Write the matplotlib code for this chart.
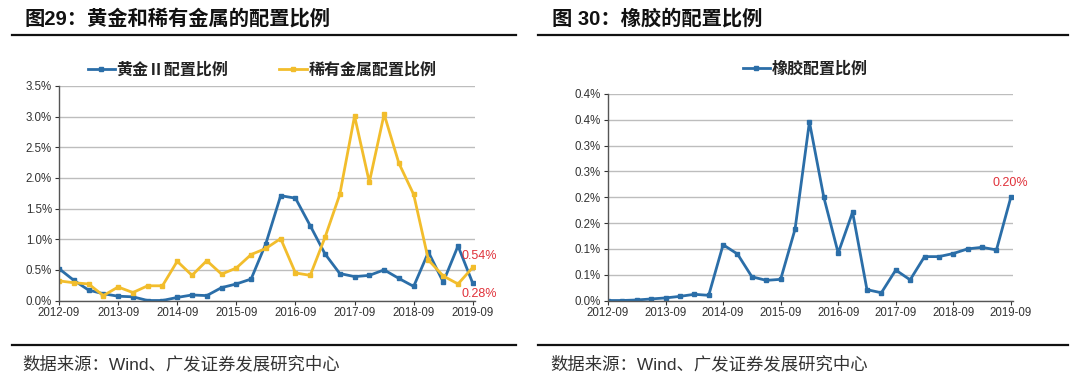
import math
import numpy as np
import matplotlib
matplotlib.use("Agg")
import matplotlib.pyplot as plt
from matplotlib.lines import Line2D
from matplotlib.ticker import FuncFormatter

plt.rcParams['font.family'] = ['Liberation Sans', 'Noto Sans CJK SC', 'DejaVu Sans']

# quarterly, 2012-09 .. 2019-09
quarters = ['2012-09', '2012-12', '2013-03', '2013-06', '2013-09', '2013-12',
            '2014-03', '2014-06', '2014-09', '2014-12', '2015-03', '2015-06',
            '2015-09', '2015-12', '2016-03', '2016-06', '2016-09', '2016-12',
            '2017-03', '2017-06', '2017-09', '2017-12', '2018-03', '2018-06',
            '2018-09', '2018-12', '2019-03', '2019-06', '2019-09']

gold = [0.52, 0.33, 0.17, 0.11, 0.07, 0.06, 0.00, 0.00, 0.05, 0.09, 0.08, 0.21,
        0.27, 0.35, 0.93, 1.71, 1.67, 1.22, 0.76, 0.44, 0.39, 0.41, 0.50, 0.36,
        0.23, 0.79, 0.30, 0.89, 0.28]
rare = [0.32, 0.29, 0.27, 0.08, 0.22, 0.13, 0.24, 0.24, 0.64, 0.41, 0.65, 0.43,
        0.53, 0.75, 0.85, 1.01, 0.45, 0.41, 1.03, 1.73, 3.01, 1.93, 3.04, 2.24,
        1.73, 0.66, 0.40, 0.27, 0.54]
rubber = [0.000, 0.000, 0.001, 0.003, 0.005, 0.008, 0.012, 0.010, 0.108, 0.090,
          0.046, 0.039, 0.041, 0.138, 0.346, 0.200, 0.092, 0.171, 0.021, 0.015,
          0.059, 0.040, 0.085, 0.085, 0.091, 0.100, 0.103, 0.098, 0.200]

BLUE = '#2b6ea8'
YELLOW = '#f2bd2c'
RED = '#e0313a'
W, H = 1080, 380

fig = plt.figure(figsize=(W / 100, H / 100), dpi=100)
fig.patch.set_facecolor('white')


def px_axes(x0, y0, x1, y1):
    return fig.add_axes([x0 / W, 1 - y1 / H, (x1 - x0) / W, (y1 - y0) / H])


def hline(x0, x1, y, lw=1.6):
    fig.add_artist(Line2D([x0 / W, x1 / W], [1 - y / H, 1 - y / H],
                          transform=fig.transFigure, color='#111111', lw=lw))


def style(ax, ymax, step, fmt):
    ax.set_xlim(0, 28.15)
    ax.set_ylim(0, ymax)
    ax.set_yticks(np.arange(0, ymax + step / 2, step))
    ax.yaxis.set_major_formatter(FuncFormatter(fmt))
    ax.set_xticks(range(0, len(quarters), 4))
    ax.set_xticklabels(quarters[::4])
    ax.grid(axis='y', color='#bdbdbd', lw=1.0)
    ax.set_axisbelow(True)
    for s in ['top', 'right']:
        ax.spines[s].set_visible(False)
    for s in ['left', 'bottom']:
        ax.spines[s].set_color('#555555')
        ax.spines[s].set_linewidth(1.0)
    ax.tick_params(axis='both', labelsize=8.3, colors='#333333', length=3,
                   width=0.8, direction='out', pad=2)


def pct1(v, _):
    return '%.1f%%' % v


def pct1_round_up(v, _):
    return '%.1f%%' % (math.floor(v * 10 + 0.5 + 1e-9) / 10)


x = np.arange(len(quarters))
mk = dict(marker='s', markersize=3.2, lw=2.0)
src = '数据来源：Wind、广发证券发展研究中心'

# ---- left chart ----
fig.text(24 / W, 1 - 19 / H, '图29：黄金和稀有金属的配置比例', fontsize=14.6,
         fontweight='bold', va='center', ha='left', color='#111111')
hline(12, 516, 34.5)
hline(12, 516, 345)
fig.text(22 / W, 1 - 364 / H, src, fontsize=12.5,
         va='center', ha='left', color='#333333')

ax1 = px_axes(59, 86, 475, 300.5)
ax1.plot(x, gold, color=BLUE, label='黄金Ⅱ配置比例', **mk)
ax1.plot(x, rare, color=YELLOW, label='稀有金属配置比例', **mk)
style(ax1, 3.5, 0.5, pct1)
ax1.annotate('%.2f%%' % rare[-1], (x[-1], rare[-1]), xytext=(-8, 6),
             textcoords='offset points', color=RED, fontsize=9, ha='left')
ax1.annotate('%.2f%%' % gold[-1], (x[-1], gold[-1]), xytext=(-8, -10),
             textcoords='offset points', color=RED, fontsize=9, ha='left')
leg1 = ax1.legend(loc='center', bbox_to_anchor=(262 / W, 1 - 70 / H),
                  bbox_transform=fig.transFigure, ncol=2, frameon=False,
                  handlelength=1.7, columnspacing=3.2, handletextpad=0.1,
                  numpoints=1, prop={'family': ['Noto Sans CJK SC'], 'size': 11.5,
                                     'weight': 'bold'})
for t in leg1.get_texts():
    t.set_color('#222222')

# ---- right chart ----
fig.text(552 / W, 1 - 19 / H, '图 30：橡胶的配置比例', fontsize=14.6,
         fontweight='bold', va='center', ha='left', color='#111111')
hline(538, 1068, 34.5)
hline(538, 1068, 345)
fig.text(550 / W, 1 - 364 / H, src, fontsize=12.5,
         va='center', ha='left', color='#333333')

ax2 = px_axes(608, 94, 1013, 300.5)
ax2.plot(x, rubber, color=BLUE, label='橡胶配置比例', **mk)
style(ax2, 0.4, 0.05, pct1_round_up)
ax2.annotate('%.2f%%' % rubber[-1], (x[-1], rubber[-1]), xytext=(-13, 8),
             textcoords='offset points', color=RED, fontsize=9, ha='left')
leg2 = ax2.legend(loc='center', bbox_to_anchor=(805 / W, 1 - 69 / H),
                  bbox_transform=fig.transFigure, frameon=False,
                  handlelength=1.7, handletextpad=0.1, numpoints=1,
                  prop={'family': ['Noto Sans CJK SC'], 'size': 11.5,
                        'weight': 'bold'})
for t in leg2.get_texts():
    t.set_color('#222222')

fig.savefig('out.png', dpi=100, facecolor='white')
